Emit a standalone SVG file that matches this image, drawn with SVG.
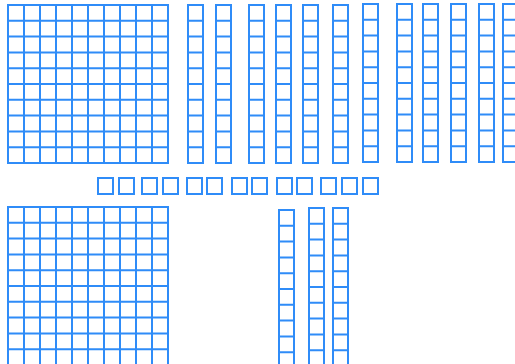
<svg xmlns="http://www.w3.org/2000/svg" xmlns:xlink="http://www.w3.org/1999/xlink" width="515" height="364" viewBox="0 0 515 364">
<style>
.b{fill:none;stroke:#2f8cf8;stroke-width:2}
</style>
<defs>
<g id="rod">
<rect class="b" x="0" y="0" width="15" height="158"/>
<path class="b" d="M0 15.8H15M0 31.6H15M0 47.4H15M0 63.2H15M0 79H15M0 94.8H15M0 110.6H15M0 126.4H15M0 142.2H15"/>
</g>
<g id="hundred">
<rect class="b" x="0" y="0" width="160" height="158"/>
<path class="b" d="M16 0V158M32 0V158M48 0V158M64 0V158M80 0V158M96 0V158M112 0V158M128 0V158M144 0V158"/>
<path class="b" d="M0 15.8H160M0 31.6H160M0 47.4H160M0 63.2H160M0 79H160M0 94.8H160M0 110.6H160M0 126.4H160M0 142.2H160"/>
</g>
<rect id="unit" class="b" x="0" y="0" width="15" height="16"/>
</defs>
<rect width="515" height="364" fill="#ffffff"/>
<g id="hundred-top"><use xlink:href="#hundred" x="8" y="5"/></g>
<g id="hundred-bottom"><use xlink:href="#hundred" x="8" y="207"/></g>
<g id="tens-top">
<use xlink:href="#rod" x="188" y="5"/>
<use xlink:href="#rod" x="216" y="5"/>
<use xlink:href="#rod" x="249" y="5"/>
<use xlink:href="#rod" x="276" y="5"/>
<use xlink:href="#rod" x="303" y="5"/>
<use xlink:href="#rod" x="333" y="5"/>
<use xlink:href="#rod" x="363" y="4"/>
<use xlink:href="#rod" x="397" y="4"/>
<use xlink:href="#rod" x="423" y="4"/>
<use xlink:href="#rod" x="451" y="4"/>
<use xlink:href="#rod" x="479" y="4"/>
<use xlink:href="#rod" x="503" y="4"/>
</g>
<g id="tens-bottom">
<use xlink:href="#rod" x="279" y="210"/>
<use xlink:href="#rod" x="309" y="208"/>
<use xlink:href="#rod" x="333" y="208"/>
</g>
<g id="ones">
<use xlink:href="#unit" x="98" y="178"/>
<use xlink:href="#unit" x="119" y="178"/>
<use xlink:href="#unit" x="142" y="178"/>
<use xlink:href="#unit" x="163" y="178"/>
<use xlink:href="#unit" x="187" y="178"/>
<use xlink:href="#unit" x="207" y="178"/>
<use xlink:href="#unit" x="232" y="178"/>
<use xlink:href="#unit" x="252" y="178"/>
<use xlink:href="#unit" x="277" y="178"/>
<use xlink:href="#unit" x="297" y="178"/>
<use xlink:href="#unit" x="321" y="178"/>
<use xlink:href="#unit" x="342" y="178"/>
<use xlink:href="#unit" x="363" y="178"/>
</g>
<g id="connectors"/>
</svg>
